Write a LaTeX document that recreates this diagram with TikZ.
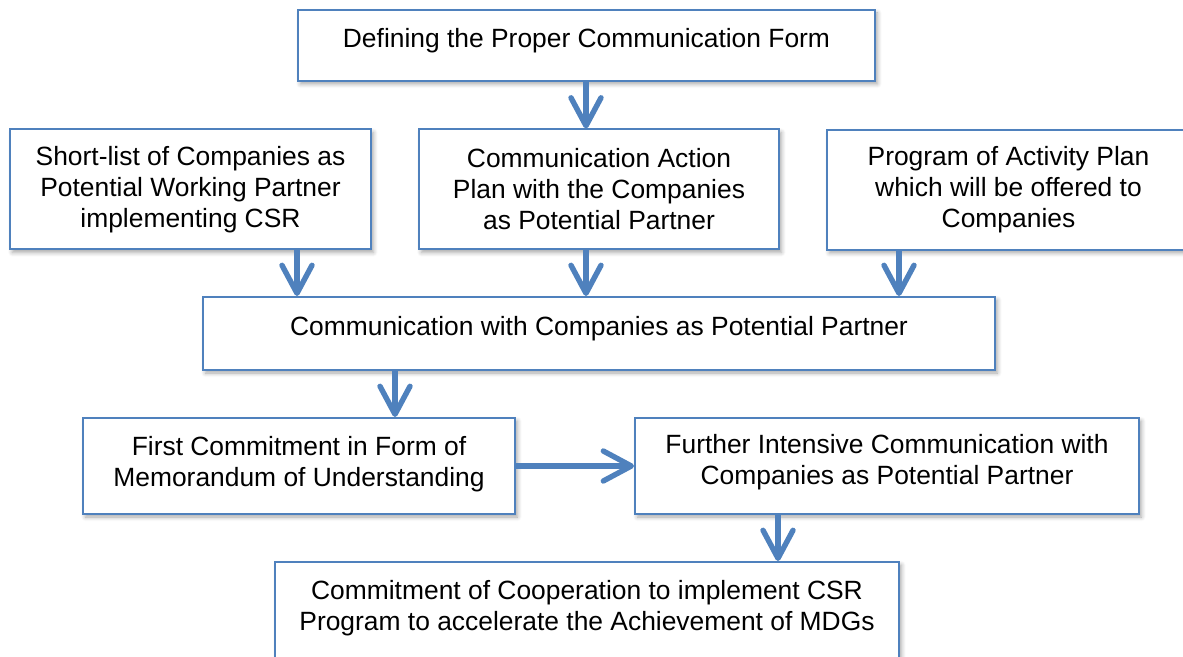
\documentclass[tikz,border=0pt]{standalone}
\usepackage{fontspec}
\setmainfont{Liberation Sans}
\usetikzlibrary{arrows.meta,shadows.blur}
\definecolor{boxblue}{HTML}{4F81BD}

\begin{document}
\begin{tikzpicture}[x=0.5pt, y=-0.5pt,
    box/.style={draw=boxblue, line width=1pt, fill=white, align=center, inner sep=0pt,
      font=\fontsize{13.2}{15.5}\selectfont,
      blur shadow={shadow xshift=1.2pt, shadow yshift=-1.5pt, shadow blur steps=6, shadow opacity=35}},
    flow/.style={draw=boxblue, line width=2.7pt, -{Straight Barb[length=14pt, width=15pt, round]}}]
      \useasboundingbox (0,0) rectangle (1183,657);
      \clip (0,0) rectangle (1183,657);

      % Boxes
      \node[box, minimum width=288.5pt, minimum height=35.5pt, text depth=7.5pt] (form) at (586.5,45.5)
        {Defining the Proper Communication Form};
      \node[box, minimum width=180.5pt, minimum height=60pt] (shortlist) at (190.5,189.5)
        {Short-list of Companies as\\Potential Working Partner\\implementing CSR};
      \node[box, minimum width=180pt, minimum height=60pt] (plan) at (599,189.5)
        {Communication Action\\Plan with the Companies\\as Potential Partner};
      \node[box, minimum width=181.5pt, minimum height=60pt] (program) at (1008.5,190)
        {Program of Activity Plan\\which will be offered to\\Companies};
      \node[box, minimum width=396pt, minimum height=36.5pt, text depth=7.5pt] (comm) at (599,333.5)
        {Communication with Companies as Potential Partner};
      \node[box, minimum width=216pt, minimum height=48pt, text depth=4.3pt] (first) at (299,466)
        {First Commitment in Form of\\Memorandum of Understanding};
      \node[box, minimum width=252pt, minimum height=48pt, text depth=6.5pt] (further) at (887,466)
        {Further Intensive Communication with\\Companies as Potential Partner};
      \node[box, minimum width=312pt, minimum height=60pt, text depth=16.5pt] (goal) at (587,622)
        {Commitment of Cooperation to implement CSR\\Program to accelerate the Achievement of MDGs};

      % Arrow positions
      \coordinate (x1) at (297,0);
      \coordinate (x2) at (586,0);
      \coordinate (x3) at (899,0);
      \coordinate (x4) at (395,0);
      \coordinate (x5) at (778,0);

      % Arrows
      \draw[flow] (form.south -| x2) -- (plan.north -| x2);
      \draw[flow] (shortlist.south -| x1) -- (comm.north -| x1);
      \draw[flow] (plan.south -| x2) -- (comm.north -| x2);
      \draw[flow] (program.south -| x3) -- (comm.north -| x3);
      \draw[flow] (comm.south -| x4) -- (first.north -| x4);
      \draw[flow] (first.east) -- (first.east -| further.west);
      \draw[flow] (further.south -| x5) -- (goal.north -| x5);

    \end{tikzpicture}
\end{document}
